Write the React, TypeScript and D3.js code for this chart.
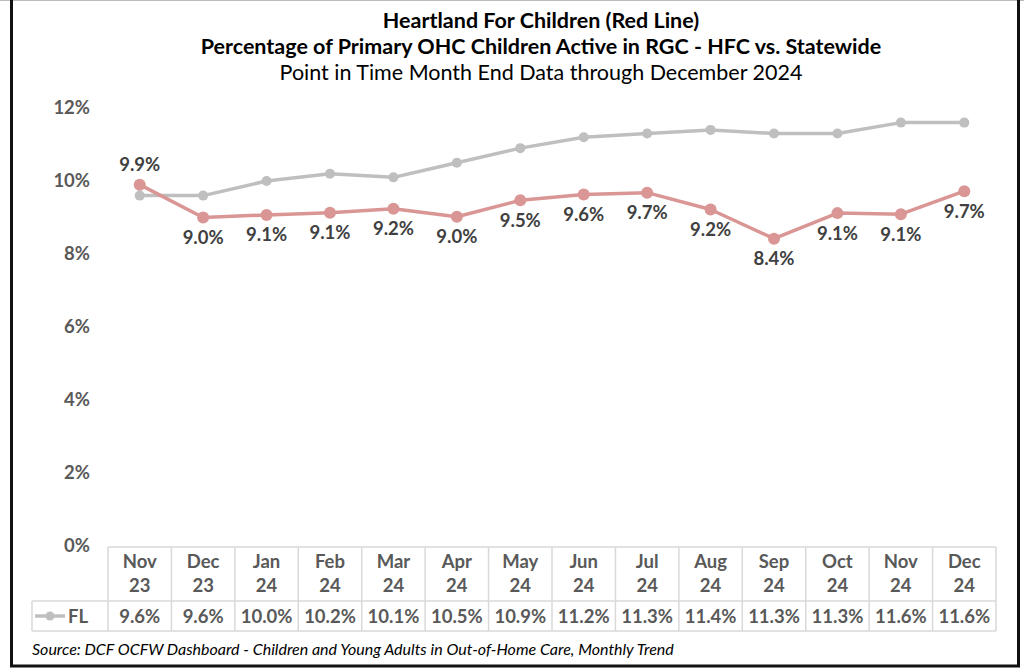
import React, { useEffect, useRef } from 'react';
import * as d3 from 'd3';

const months = ['Nov', 'Dec', 'Jan', 'Feb', 'Mar', 'Apr', 'May', 'Jun', 'Jul', 'Aug', 'Sep', 'Oct', 'Nov', 'Dec'];
const years = ['23', '23', '24', '24', '24', '24', '24', '24', '24', '24', '24', '24', '24', '24'];
const hfcValues = [9.9, 9.0, 9.07, 9.13, 9.24, 9.02, 9.47, 9.63, 9.68, 9.22, 8.42, 9.12, 9.09, 9.72];
const hfcLabels = ['9.9%', '9.0%', '9.1%', '9.1%', '9.2%', '9.0%', '9.5%', '9.6%', '9.7%', '9.2%', '8.4%', '9.1%', '9.1%', '9.7%'];
const flValues = [9.6, 9.6, 10.0, 10.2, 10.1, 10.5, 10.9, 11.2, 11.3, 11.4, 11.3, 11.3, 11.6, 11.6];
const flLabels = ['9.6%', '9.6%', '10.0%', '10.2%', '10.1%', '10.5%', '10.9%', '11.2%', '11.3%', '11.4%', '11.3%', '11.3%', '11.6%', '11.6%'];
const yTicks = [0, 2, 4, 6, 8, 10, 12];

const W = 1024;
const H = 669;
const FONT = 'Lato, Carlito, "Open Sans", sans-serif';

const App = () => {
  const ref = useRef<SVGSVGElement>(null);

  useEffect(() => {
    const svg = d3.select(ref.current);
    svg.selectAll('*').remove();

    const left = 108;
    const right = 996;
    const top = 108;
    const bottom = 546;
    const grid = '#D9D9D9';

    const x = d3.scaleBand<number>().domain(d3.range(months.length)).range([left, right]);
    const cx = (i: number) => x(i)! + x.bandwidth() / 2;
    const y = d3.scaleLinear().domain([0, 12]).range([bottom, top]);

    // frame
    svg.append('rect').attr('x', 0).attr('y', 0).attr('width', W).attr('height', H).attr('fill', '#fff');
    svg.append('line').attr('x1', 0).attr('x2', W).attr('y1', 0.5).attr('y2', 0.5).attr('stroke', '#bbb');
    svg.append('rect')
      .attr('x', 11.5).attr('y', -3).attr('width', 1007).attr('height', 669)
      .attr('fill', 'none').attr('stroke', '#111').attr('stroke-width', 3);

    // titles
    const titles = [
      { t: 'Heartland For Children (Red Line)', y: 28, w: 'bold' },
      { t: 'Percentage of Primary OHC Children Active in RGC - HFC vs. Statewide', y: 54, w: 'bold' },
      { t: 'Point in Time Month End Data through December 2024', y: 80, w: 'normal' },
    ];
    titles.forEach(d => {
      svg.append('text')
        .attr('x', 541).attr('y', d.y)
        .attr('text-anchor', 'middle')
        .style('font-family', FONT).style('font-size', '21.5px')
        .style('font-weight', d.w).attr('fill', '#000')
        .text(d.t);
    });

    // y axis labels
    svg.append('g').selectAll('text').data(yTicks).join('text')
      .attr('x', 90).attr('y', d => y(d)).attr('dy', '0.35em')
      .attr('text-anchor', 'end')
      .style('font-family', FONT).style('font-size', '18.5px').style('font-weight', 'bold')
      .attr('fill', '#595959')
      .text(d => `${d}%`);

    // data table
    const tbl = svg.append('g');
    const rowTop = 547;
    const rowMid = 601;
    const rowBot = 631;
    const legLeft = 32;
    tbl.append('line').attr('x1', left).attr('x2', right).attr('y1', rowTop).attr('y2', rowTop).attr('stroke', grid).attr('stroke-width', 1.5);
    tbl.append('line').attr('x1', legLeft).attr('x2', right).attr('y1', rowMid).attr('y2', rowMid).attr('stroke', grid).attr('stroke-width', 1.5);
    tbl.append('line').attr('x1', legLeft).attr('x2', right).attr('y1', rowBot).attr('y2', rowBot).attr('stroke', grid).attr('stroke-width', 1.5);
    tbl.append('line').attr('x1', legLeft).attr('x2', legLeft).attr('y1', rowMid).attr('y2', rowBot).attr('stroke', grid).attr('stroke-width', 1.5);
    tbl.selectAll('line.col').data(d3.range(months.length + 1)).join('line')
      .attr('class', 'col')
      .attr('x1', i => left + i * x.bandwidth()).attr('x2', i => left + i * x.bandwidth())
      .attr('y1', rowTop).attr('y2', rowBot)
      .attr('stroke', grid).attr('stroke-width', 1.5);

    const cellText = (sel: d3.Selection<SVGTextElement, number, SVGGElement, unknown>) =>
      sel.attr('text-anchor', 'middle')
        .style('font-family', FONT).style('font-size', '18.5px').style('font-weight', 'bold')
        .attr('fill', '#595959');

    tbl.append('g').selectAll<SVGTextElement, number>('text').data(d3.range(months.length)).join('text')
      .attr('x', cx).attr('y', 562).attr('dy', '0.35em')
      .call(cellText)
      .text(i => months[i]);
    tbl.append('g').selectAll<SVGTextElement, number>('text').data(d3.range(months.length)).join('text')
      .attr('x', cx).attr('y', 586).attr('dy', '0.35em')
      .call(cellText)
      .text(i => years[i]);
    tbl.append('g').selectAll<SVGTextElement, number>('text').data(d3.range(months.length)).join('text')
      .attr('x', cx).attr('y', 617).attr('dy', '0.35em')
      .call(cellText)
      .text(i => flLabels[i]);

    // legend key
    tbl.append('line').attr('x1', 35).attr('x2', 65).attr('y1', 616).attr('y2', 616)
      .attr('stroke', '#BFBFBF').attr('stroke-width', 3.5);
    tbl.append('circle').attr('cx', 50).attr('cy', 616).attr('r', 4.5).attr('fill', '#BFBFBF');
    tbl.append('text').attr('x', 68).attr('y', 617).attr('dy', '0.35em')
      .style('font-family', FONT).style('font-size', '18.5px').style('font-weight', 'bold')
      .attr('fill', '#595959').text('FL');

    // lines
    const line = d3.line<number>().x((_, i) => cx(i)).y(d => y(d));

    svg.append('path').datum(flValues)
      .attr('fill', 'none').attr('stroke', '#BFBFBF').attr('stroke-width', 3.5)
      .attr('stroke-linejoin', 'round').attr('d', line);
    svg.append('g').selectAll('circle').data(flValues).join('circle')
      .attr('cx', (_, i) => cx(i)).attr('cy', d => y(d)).attr('r', 5).attr('fill', '#BFBFBF');

    svg.append('path').datum(hfcValues)
      .attr('fill', 'none').attr('stroke', '#D99694').attr('stroke-width', 3.5)
      .attr('stroke-linejoin', 'round').attr('d', line);
    svg.append('g').selectAll('circle').data(hfcValues).join('circle')
      .attr('cx', (_, i) => cx(i)).attr('cy', d => y(d)).attr('r', 6).attr('fill', '#D99694');

    svg.append('g').selectAll('text').data(hfcValues).join('text')
      .attr('x', (_, i) => cx(i))
      .attr('y', (d, i) => (i === 0 ? y(d) - 20 : y(d) + 20))
      .attr('dy', '0.35em')
      .attr('text-anchor', 'middle')
      .style('font-family', FONT).style('font-size', '18.5px').style('font-weight', 'bold')
      .attr('fill', '#404040')
      .text((_, i) => hfcLabels[i]);

    // source
    svg.append('text').attr('x', 32).attr('y', 649).attr('dy', '0.35em')
      .style('font-family', FONT).style('font-size', '16px').style('font-style', 'italic')
      .attr('fill', '#000')
      .text('Source: DCF OCFW Dashboard - Children and Young Adults in Out-of-Home Care, Monthly Trend');
  }, []);

  return (
    <svg
      ref={ref}
      width={W}
      height={H}
      style={{ position: 'absolute', left: 0, top: 0, display: 'block' }}
    />
  );
};

export default App;
